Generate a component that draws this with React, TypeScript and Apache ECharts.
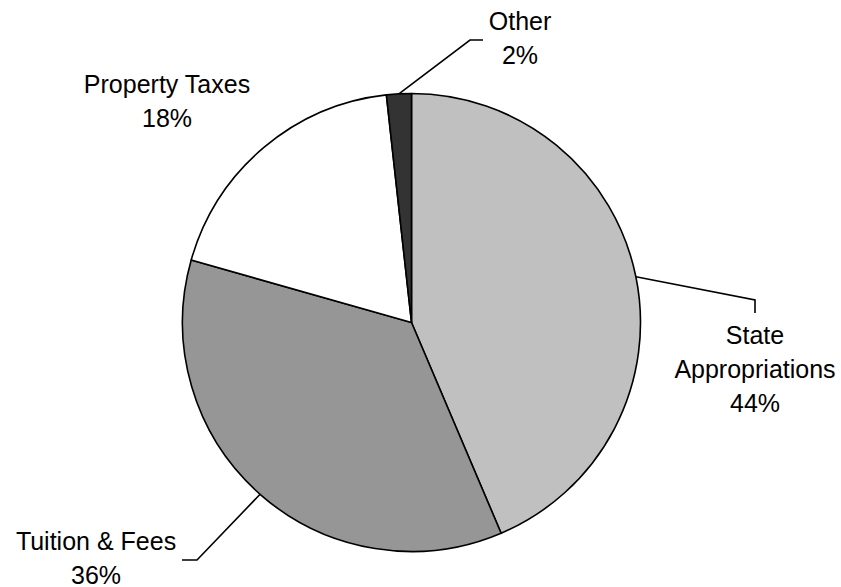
import React, { useEffect, useRef } from "react";
import * as echarts from "echarts";

const categories = ["State\nAppropriations", "Tuition & Fees", "Property Taxes", "Other"];
const shareValues = [43.6, 35.8, 18.85, 1.75];
const percentLabels = ["44%", "36%", "18%", "2%"];
const sliceColors = ["#C0C0C0", "#969696", "#FFFFFF", "#333333"];

// label block centres and leader-line elbows (pixels)
const labelCenters: [number, number][] = [
  [755, 369],
  [96, 558],
  [167, 101],
  [520, 38],
];
const leaderElbows: ([number, number][] | null)[] = [
  [[755, 300], [755, 313]],
  [[197, 560], [182, 560]],
  null,
  [[470, 40], [483, 40]],
];

const CX = 411.5;
const CY = 322.5;
const R = 229;

export default function App() {
  const ref = useRef<HTMLDivElement>(null);
  useEffect(() => {
    if (!ref.current) return;
    const chart = echarts.init(ref.current, null, { renderer: "svg" });
    const total = shareValues.reduce((a, b) => a + b, 0);
    const midAngles: number[] = [];
    let acc = 0;
    shareValues.forEach((v) => {
      midAngles.push(((acc + v / 2) / total) * Math.PI * 2);
      acc += v;
    });
    chart.setOption({
      animation: false,
      backgroundColor: "#FFFFFF",
      series: [
        {
          type: "pie",
          center: [CX, CY],
          radius: R,
          startAngle: 90,
          clockwise: true,
          avoidLabelOverlap: false,
          itemStyle: { borderColor: "#000000", borderWidth: 1.6 },
          label: {
            show: true,
            position: "outside",
            color: "#000000",
            fontSize: 25,
            lineHeight: 34,
            fontFamily: "Liberation Sans, Arial, sans-serif",
            align: "center",
            formatter: (p: any) => `${p.name}\n${percentLabels[p.dataIndex]}`,
          },
          labelLine: {
            show: true,
            lineStyle: { color: "#000000", width: 1.6 },
          },
          labelLayout: (params: any) => {
            const i = params.dataIndex;
            const [x, y] = labelCenters[i];
            const res: any = { x, y, align: "center", verticalAlign: "middle" };
            const elbow = leaderElbows[i];
            if (elbow) {
              const a = midAngles[i];
              const start = [CX + R * Math.sin(a), CY - R * Math.cos(a)];
              res.labelLinePoints = [start, elbow[0], elbow[1]];
            }
            return res;
          },
          data: categories.map((name, i) => ({
            name,
            value: shareValues[i],
            itemStyle: { color: sliceColors[i] },
            labelLine: { show: leaderElbows[i] !== null },
          })),
        },
      ],
    });
    return () => chart.dispose();
  }, []);
  return (
    <div
      ref={ref}
      style={{ position: "fixed", left: 0, top: 0, width: 841, height: 587 }}
    />
  );
}
